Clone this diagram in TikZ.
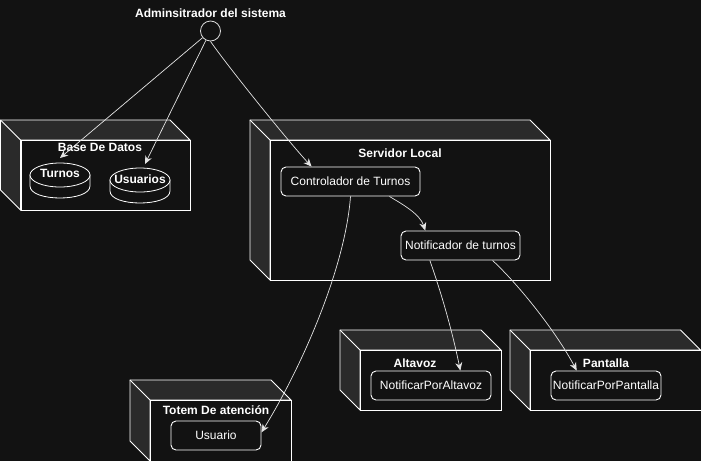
\documentclass[tikz,border=0pt]{standalone}
\usepackage{fontspec}
\setmainfont{Liberation Sans}
\usetikzlibrary{arrows.meta}
\definecolor{bg}{HTML}{121212}
\definecolor{side}{HTML}{2A2A2A}
\definecolor{wire}{HTML}{E4E4E4}
\tikzset{
  sideface/.style={draw=white, fill=side, line width=0.9pt, line join=miter},
  frontface/.style={draw=white, fill=bg, line width=0.9pt, rectangle, inner sep=0pt, anchor=north west},
  comp/.style={draw=white, fill=bg, rounded corners=5pt, line width=0.9pt, rectangle, inner sep=0pt,
    font=\fontsize{12}{14}\selectfont, text=white},
  lbl/.style={font=\bfseries\fontsize{12}{14}\selectfont, text=white, inner sep=0pt},
  cylface/.style={draw=white, fill=bg, line width=0.8pt},
  conn/.style={draw=wire, line width=0.7pt, -{Stealth[length=8pt,width=7pt,inset=2.5pt]}},
}
\newcommand{\cubebox}[5]{%
  \path[sideface] (#2,#3) -- ({#4-20},#3) -- (#4,{#3+20}) -- ({#2+20},{#3+20}) -- ({#2+20},#5) -- (#2,{#5-20}) -- cycle;
  \draw[sideface] (#2,#3) -- ({#2+20},{#3+20});
  \node[frontface, minimum width={(#4-#2-20)*1pt}, minimum height={(#5-#3-20)*1pt}] (#1) at ({#2+20},{#3+20}) {};
}
\newcommand{\dbcyl}[2]{%
  \draw[cylface] ({#1-30},{#2+12}) -- ({#1-30},{#2+23}) .. controls ({#1-30},{#2+39}) and ({#1+30},{#2+39}) .. ({#1+30},{#2+23}) -- ({#1+30},{#2+12}) -- cycle;
  \draw[cylface] (#1,{#2+12}) ellipse [x radius=30pt, y radius=12pt];
}
\begin{document}
\begin{tikzpicture}[x=1pt,y=-1pt]
\fill[bg] (0,0) rectangle (701,461);
\useasboundingbox (0,0) rectangle (701,461);

% 3D nodes
\cubebox{dbbox}{0.5}{120}{190}{210}
\cubebox{srvbox}{250}{120}{550}{280}
\cubebox{altbox}{340}{330}{501}{410}
\cubebox{panbox}{510}{330}{700.5}{410}
\cubebox{totbox}{130}{380}{291}{461}

% labels
\node[lbl] (adminlbl) at (210.5,13) {Adminsitrador del sistema};
\node[lbl] (dblbl) at (100,147) {Base De Datos};
\node[lbl] (srvlbl) at (400,153) {Servidor Local};
\node[lbl] (altlbl) at (415,363) {Altavoz};
\node[lbl] (panlbl) at (606,363) {Pantalla};
\node[lbl] (totlbl) at (216,410) {Totem De atención};

% actor
\node[circle, draw=white!85!black, fill=bg, line width=0.8pt, minimum size=20pt, inner sep=0pt] (admin) at (210.5,31) {};

% databases
\dbcyl{60}{163}
\node[lbl] (turnos) at (60,173) {Turnos};
\dbcyl{140}{168}
\node[lbl] (usuarios) at (140,179) {Usuarios};
\coordinate (turnosIn) at (60,158);
\coordinate (usuariosIn) at (145,164);

% components
\node[comp, minimum width=139pt, minimum height=29pt] (ctrl) at (350.5,181.5) {Controlador de Turnos};
\node[comp, minimum width=119pt, minimum height=29pt] (notif) at (460.5,245.5) {Notificador de turnos};
\node[comp, minimum width=120pt, minimum height=29pt] (npa) at (431,385.5) {NotificarPorAltavoz};
\node[comp, minimum width=110pt, minimum height=29pt] (npp) at (606,385.5) {NotificarPorPantalla};
\node[comp, minimum width=90pt, minimum height=29pt] (usuario) at (216,435.5) {Usuario};

% connectors
\draw[conn] (admin) -- (turnosIn);
\draw[conn] (admin) -- (usuariosIn);
\draw[conn] (admin.south) .. controls (229,68) and (288,141) .. (ctrl.159);
\draw[conn] (ctrl.-21) .. controls (402,204) and (420,214) .. (notif.157);
\draw[conn] (ctrl.south) .. controls (345,270) and (300,370) .. (usuario.4);
\draw[conn] (notif.-154) .. controls (441,292) and (452,330) .. (npa.27);
\draw[conn] (notif.-25) .. controls (522,288) and (558,335) .. (npp.153);
\end{tikzpicture}
\end{document}
